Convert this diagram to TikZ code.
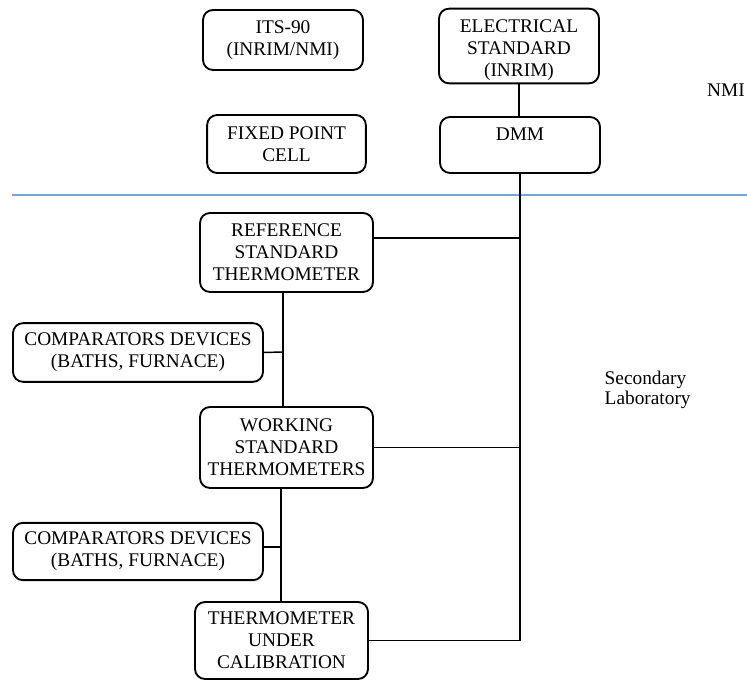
\documentclass[tikz,border=0pt]{standalone}
\usepackage{fontspec}
\setmainfont{Liberation Serif}
\usepackage{tikz}
\usetikzlibrary{positioning, calc}

\definecolor{splitblue}{RGB}{125,162,212}

\begin{document}
\begin{tikzpicture}[x=0.75pt, y=-0.75pt,
    box/.style={draw, line width=1.4pt, rounded corners=7.5pt, align=center, inner sep=1.5pt,
        font=\fontsize{14.5pt}{16.5pt}\selectfont},
    link/.style={line width=1.1pt},
    side/.style={align=left, font=\fontsize{14.5pt}{15pt}\selectfont}]
    \useasboundingbox (0,0) rectangle (747,680);

    % NMI level
    \node[box, minimum width=120pt, minimum height=45pt] (its) at (283,40) {ITS-90\\(INRIM/NMI)};
    \node[box, minimum width=119pt, minimum height=43.5pt] (fixed) at (286.5,144) {FIXED POINT\\CELL};
    \node[box, minimum width=120pt, minimum height=56pt] (elec) at (519,46) {\rule{0pt}{15.5pt}ELECTRICAL\\STANDARD\\(INRIM)};
    \node[box, minimum width=120pt, minimum height=42pt] (dmm) at (520,145) {DMM\\\mbox{}};

    % Separation line
    \coordinate (sepL) at (12,195);
    \coordinate (sepR) at (747,195);
    \draw[splitblue, line width=1.2pt] (sepL) -- (sepR);

    % Secondary laboratory
    \node[box, minimum width=129.75pt, minimum height=59.25pt] (ref) at (286.5,252.5) {REFERENCE\\STANDARD\\THERMOMETER};
    \node[box, minimum width=187.5pt, minimum height=44pt] (comp1) at (138,352.5) {COMPARATORS DEVICES\\(BATHS, FURNACE)};
    \node[box, minimum width=129.75pt, minimum height=60.75pt] (work) at (286.5,447.5) {WORKING\\STANDARD\\THERMOMETERS};
    \node[box, minimum width=187.5pt, minimum height=43pt] (comp2) at (138,551.5) {COMPARATORS DEVICES\\(BATHS, FURNACE)};
    \node[box, minimum width=129.75pt, minimum height=57.75pt] (tuc) at (281.5,640.5) {THERMOMETER\\UNDER\\CALIBRATION};

    % Side labels
    \node[side] (nmi) at (726,90) {NMI};
    \node[side, anchor=west] (seclab) at (600,390) {Secondary\\Laboratory};

    % Joints
    \coordinate (jref) at (520,238);
    \coordinate (spine1) at (283,352);
    \coordinate (spine2) at (281,547);

    % Connections
    \draw[link] (elec.south) -- (elec.south |- dmm.north);
    \draw[link] (dmm.south) -- (dmm.south |- tuc.east) -- (tuc.east);
    \draw[link] (ref.east |- jref) -- (jref);
    \draw[link] (work.east) -- (work.east -| jref);
    \draw[link] (ref.south -| spine1) -- (work.north -| spine1);
    \draw[link] (comp1.east) -- (spine1);
    \draw[link] (work.south -| spine2) -- (tuc.north -| spine2);
    \draw[link] (comp2.east |- spine2) -- (spine2);
\end{tikzpicture}
\end{document}
